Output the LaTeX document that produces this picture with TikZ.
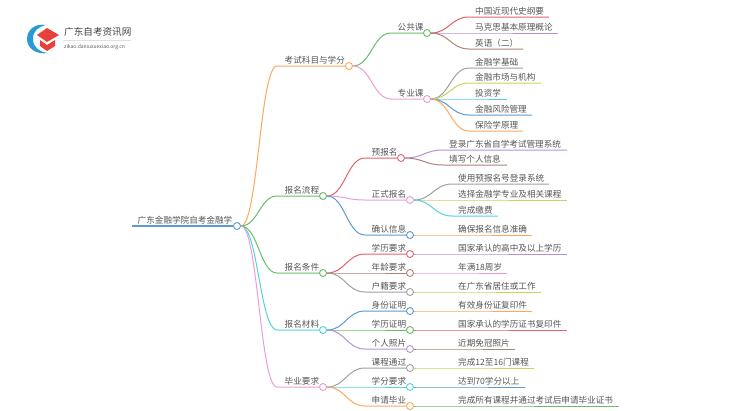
\documentclass[tikz,border=0pt]{standalone}
\usepackage{fontspec}
\usepackage{color}
\setmainfont{Noto Sans CJK SC}
\definecolor{cblue}{HTML}{5A9BD0}
\definecolor{corange}{HTML}{FFA85C}
\definecolor{cgreen}{HTML}{66BE66}
\definecolor{cred}{HTML}{E2626A}
\definecolor{cpurple}{HTML}{B493D3}
\definecolor{cbrown}{HTML}{AC8378}
\definecolor{cpink}{HTML}{EE9CD6}
\definecolor{cgray}{HTML}{A0A0A0}
\definecolor{colive}{HTML}{D0D15C}
\definecolor{ccyan}{HTML}{52D3E0}
\definecolor{ctext}{HTML}{555555}
\definecolor{clogo}{HTML}{2A9AD6}
\definecolor{ccap}{HTML}{E8403A}

\begin{document}
\begin{tikzpicture}[x=1pt,y=-1pt,
		dot/.style={circle,fill=white,line width=0.9pt,minimum size=7pt,inner sep=0pt},
		link/.style={line width=1pt},
		lbl/.style={anchor=base west,inner sep=0pt,font=\fontsize{8.6}{10}\selectfont,text=ctext}]
	\useasboundingbox (0,0) rectangle (750,410);
	
	% logo
	
	\fill[clogo] (46,25) .. controls (35,23) and (27,30) .. (27,39) .. controls (27,48) and (36,55) .. (48,53) .. controls (39,52) and (33,47) .. (33,39) .. controls (33,31) and (38,27) .. (46,25) -- cycle;
	\fill[ccap] (37,35) -- (47,28) -- (59,35) -- (47,42) -- cycle;
	\fill[ccap] (40,40) -- (47,45) -- (55,40) -- (55,46) -- (47,51) -- (40,46) -- cycle;
	\node[anchor=base west,inner sep=0pt,font=\fontsize{9.6}{11}\selectfont,text=black!75] (LT) at (64,35) {广东自考资讯网};
	\draw[black!12,line width=0.5pt] (63,40.5) -- (131,40.5);
	\node[anchor=base west,inner sep=0pt,font=\fontsize{5}{6}\selectfont,text=black!65] (LU) at (64,48.5) {zikao.daniuxuexiao.org.cn};
	
	% root
	
	\node[dot,draw=cblue] (R) at (237,226) {};
	\coordinate (RS) at (132,226);
	\draw[link,cblue,line width=1.4pt] (RS) -- (R);
	\node[lbl] (RT) at (137.5,223.5) {广东金融学院自考金融学};
	
	% first level
	
	\foreach \n/\x/\y/\c/\t in {K/349/66/corange/考试科目与学分,B/323/196/cgreen/报名流程,T/323/273/cgreen/报名条件,M/323/330/ccyan/报名材料,Y/323/387/cpink/毕业要求} {
		\coordinate (\n S) at (277,\y);
		\draw[link,\c] (R.east) .. controls +(17,0) and +(-17,0) .. (\n S) -- (\x-4,\y);
		\node[dot,draw=\c] (\n) at (\x,\y) {};
		\node[lbl] (\n T) at (284.5,\y-2.5) {\t};
	}
	
	% second level
	
	\foreach \n/\p/\s/\x/\y/\c/\t in {K1/K/391/427/33/cgreen/公共课,K2/K/391/427/99/cpink/专业课,
		B1/B/365/401/158/cred/预报名,B2/B/365/410/200/cpink/正式报名,B3/B/365/410/235/cblue/确认信息,
		T1/T/365/410/254/cred/学历要求,T2/T/365/410/273/cbrown/年龄要求,T3/T/365/410/292/cgray/户籍要求,
		M1/M/365/410/311/cblue/身份证明,M2/M/365/410/330/cgreen/学历证明,M3/M/365/410/349/cpurple/个人照片,
		Y1/Y/365/410/368/cgray/课程通过,Y2/Y/365/410/387/ccyan/学分要求,Y3/Y/365/410/406/corange/申请毕业} {
		\coordinate (\n S) at (\s,\y);
		\draw[link,\c] (\p.east) .. controls +(18,0) and +(-18,0) .. (\n S) -- (\x-4,\y);
		\node[dot,draw=\c] (\n) at (\x,\y) {};
		\node[lbl] (\n T) at (\s+6.5,\y-2.5) {\t};
	}
	
	% leaves
	
	\foreach \n/\p/\s/\e/\y/\c/\t in {A1/K1/469/549/17/cred/中国近现代史纲要,A2/K1/469/558/33/cpurple/马克思基本原理概论,A3/K1/469/523/49/cbrown/英语（二）,
		A4/K2/469/523/68/cgray/金融学基础,A5/K2/469/541/83/colive/金融市场与机构,A6/K2/469/507/99/ccyan/投资学,A7/K2/469/532/115/cblue/金融风险管理,A8/K2/469/523/131/corange/保险学原理,
		C1/B1/443/567/150/cpurple/登录广东省自学考试管理系统,C2/B1/443/507/165/cbrown/填写个人信息,
		C3/B2/452/549/184/cgray/使用预报名号登录系统,C4/B2/452/567/200/colive/选择金融学专业及相关课程,C5/B2/452/498/216/ccyan/完成缴费,
		C6/B3/452/532/235/corange/确保报名信息准确,
		D1/T1/452/567/254/cpurple/国家承认的高中及以上学历,D2/T2/452/507/273/cpink/年满18周岁,D3/T3/452/541/292/colive/在广东省居住或工作,
		E1/M1/452/532/311/corange/有效身份证复印件,E2/M2/452/567/330/cred/国家承认的学历证书复印件,E3/M3/452/515/349/cbrown/近期免冠照片,
		F1/Y1/452/534/368/colive/完成12至16门课程,F2/Y2/452/525/387/cblue/达到70学分以上,F3/Y3/452/619/406/cgreen/完成所有课程并通过考试后申请毕业证书} {
		\coordinate (\n S) at (\s,\y);
		\coordinate (\n E) at (\e,\y);
		\draw[link,\c] (\p.east) .. controls +(18,0) and +(-18,0) .. (\n S) -- (\n E);
		\node[lbl] (\n T) at (\s+6,\y-2.5) {\t};
	}
	
\end{tikzpicture}
\end{document}
